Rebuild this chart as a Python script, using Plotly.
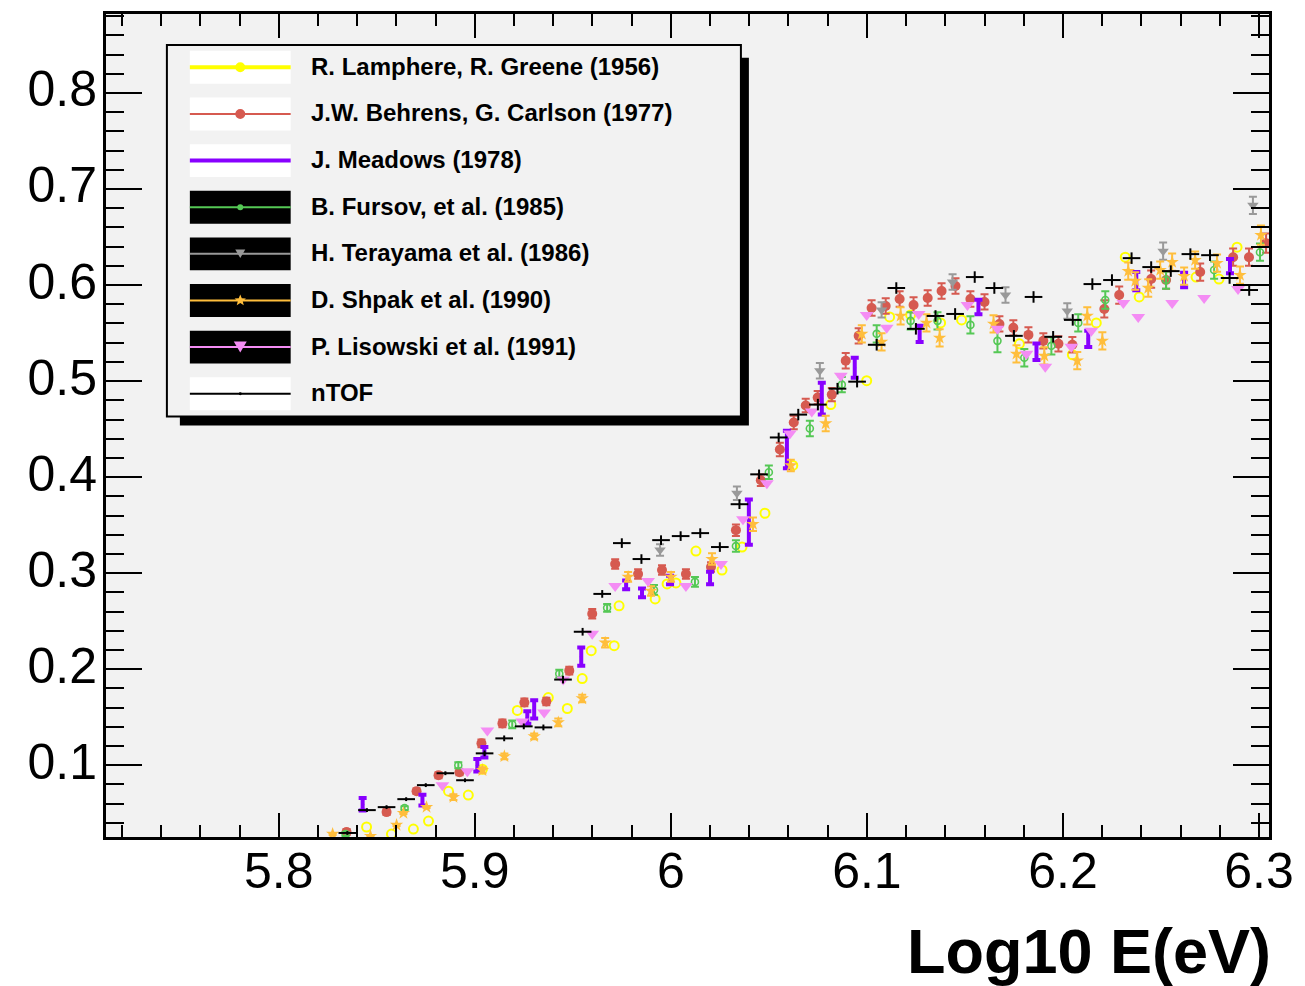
import math
import plotly.graph_objects as go

# ---------------- data (log10 E [eV], cross section) ----------------
lamphere_x = [5.8448, 5.8575, 5.8687, 5.8764, 5.8866, 5.8967, 5.9039, 5.9217, 5.9375, 5.9472,
              5.9548, 5.9594, 5.9711, 5.9736, 5.9920, 5.9981, 6.0026, 6.0128, 6.0261, 6.0363,
              6.0480, 6.0622, 6.0816, 6.0999, 6.1116, 6.1223, 6.1376, 6.1483, 6.1778, 6.2048,
              6.2170, 6.2318, 6.2389, 6.2679, 6.2796, 6.2888]
lamphere_y = [0.0357, 0.0284, 0.0336, 0.0419, 0.0730, 0.0689, 0.0959, 0.1571, 0.1705, 0.1591,
              0.1902, 0.2193, 0.2245, 0.2660, 0.2732, 0.2888, 0.2898, 0.3230, 0.3033, 0.3272,
              0.3624, 0.4122, 0.4755, 0.5004, 0.5668, 0.5689, 0.5606, 0.5637, 0.5388, 0.5274,
              0.5606, 0.6290, 0.5876, 0.6083, 0.6062, 0.6394]

behrens_x = [5.8346, 5.8550, 5.8703, 5.8815, 5.8922, 5.9034, 5.9141, 5.9253, 5.9365, 5.9482,
             5.9599, 5.9716, 5.9833, 5.9955, 6.0077, 6.0205, 6.0332, 6.0459, 6.0556, 6.0627,
             6.0688, 6.0749, 6.0821, 6.0892, 6.0958, 6.1024, 6.1096, 6.1167, 6.1238, 6.1310,
             6.1381, 6.1452, 6.1528, 6.1600, 6.1676, 6.1747, 6.1824, 6.1900, 6.1977, 6.2048,
             6.2211, 6.2287, 6.2450, 6.2526, 6.2700, 6.2868, 6.2949, 6.3036]
behrens_y = [0.0305, 0.0512, 0.0730, 0.0896, 0.0927, 0.1228, 0.1436, 0.1654, 0.1664, 0.1985,
             0.2577, 0.3095, 0.2992, 0.3033, 0.2992, 0.3064, 0.3448, 0.3967, 0.4288, 0.4568,
             0.4745, 0.4828, 0.4859, 0.5212, 0.5471, 0.5761, 0.5782, 0.5855, 0.5793, 0.5865,
             0.5938, 0.5990, 0.5855, 0.5824, 0.5595, 0.5554, 0.5481, 0.5419, 0.5388, 0.5378,
             0.5751, 0.5896, 0.6062, 0.6052, 0.6135, 0.6290, 0.6290, 0.6436]
behrens_err = [0.003, 0.003, 0.003, 0.003, 0.003, 0.004, 0.004, 0.004, 0.004, 0.004,
               0.005, 0.005, 0.005, 0.005, 0.005, 0.005, 0.006, 0.006, 0.007, 0.007,
               0.007, 0.007, 0.007, 0.008, 0.008, 0.008, 0.008, 0.008, 0.008, 0.008,
               0.008, 0.008, 0.008, 0.008, 0.008, 0.008, 0.008, 0.008, 0.008, 0.008,
               0.009, 0.009, 0.009, 0.009, 0.009, 0.009, 0.009, 0.010]

meadows_x = [5.8428, 5.8733, 5.9013, 5.9049, 5.9268, 5.9303, 5.9543, 5.9772, 5.9853, 5.9996,
             6.0200, 6.0398, 6.0592, 6.0770, 6.0938, 6.1269, 6.1569, 6.1865, 6.2129, 6.2374,
             6.2618, 6.2852]
meadows_y = [0.0595, 0.0637, 0.1000, 0.1135, 0.1498, 0.1581, 0.2131, 0.2878, 0.2795, 0.2929,
             0.2950, 0.3531, 0.4288, 0.4817, 0.5139, 0.5492, 0.5772, 0.5305, 0.5440, 0.6042,
             0.6052, 0.6197]
meadows_err = [0.0065, 0.0055, 0.0065, 0.0055, 0.0065, 0.0095, 0.0095, 0.0045, 0.0045, 0.0045,
               0.0065, 0.0235, 0.0195, 0.0165, 0.0105, 0.0085, 0.0075, 0.0085, 0.0085, 0.0095,
               0.0075, 0.0075]

fursov_x = [5.8341, 5.8642, 5.8916, 5.9191, 5.9431, 5.9675, 5.9914, 6.0123, 6.0332, 6.0500,
            6.0709, 6.0872, 6.1050, 6.1223, 6.1360, 6.1528, 6.1666, 6.1803, 6.1941, 6.2078,
            6.2216, 6.2526, 6.2771, 6.3005]
fursov_y = [0.0284, 0.0554, 0.1000, 0.1425, 0.1954, 0.2639, 0.2826, 0.2909, 0.3282, 0.4050,
            0.4506, 0.4963, 0.5492, 0.5627, 0.5627, 0.5585, 0.5419, 0.5243, 0.5367, 0.5606,
            0.5844, 0.6052, 0.6156, 0.6342]
fursov_err = [0.002, 0.002, 0.003, 0.004, 0.004, 0.004, 0.005, 0.005, 0.006, 0.007,
              0.008, 0.008, 0.009, 0.009, 0.009, 0.009, 0.012, 0.009, 0.009, 0.009,
              0.009, 0.009, 0.009, 0.009]

terayama_x = [5.9945, 6.0337, 6.0760, 6.1075, 6.1437, 6.1707, 6.2022, 6.2511, 6.2969]
terayama_y = [0.3241, 0.3832, 0.5108, 0.5741, 0.6031, 0.5896, 0.5730, 0.6353, 0.6830]
terayama_err = [0.006, 0.007, 0.008, 0.008, 0.008, 0.008, 0.008, 0.009, 0.009]

shpak_x = [5.8275, 5.8468, 5.8601, 5.8636, 5.8754, 5.8891, 5.9039, 5.9151, 5.9303, 5.9426,
           5.9548, 5.9665, 5.9782, 5.9899, 6.0001, 6.0210, 6.0419, 6.0612, 6.0790, 6.0974,
           6.1075, 6.1172, 6.1304, 6.1371, 6.1646, 6.1763, 6.1905, 6.2073, 6.2124, 6.2201,
           6.2333, 6.2369, 6.2435, 6.2496, 6.2557, 6.2618, 6.2674, 6.2786, 6.2903, 6.3010]
shpak_y = [0.0284, 0.0263, 0.0378, 0.0502, 0.0564, 0.0668, 0.0948, 0.1093, 0.1301, 0.1446,
           0.1695, 0.2276, 0.2961, 0.2815, 0.2961, 0.3147, 0.3510, 0.4122, 0.4558, 0.5492,
           0.5409, 0.5678, 0.5606, 0.5450, 0.5595, 0.5284, 0.5263, 0.5212, 0.5678, 0.5419,
           0.6145, 0.6042, 0.5969, 0.6156, 0.6239, 0.6093, 0.6259, 0.6228, 0.6104, 0.6519]
shpak_err = [0.001, 0.001, 0.001, 0.001, 0.001, 0.003, 0.003, 0.003, 0.003, 0.004,
             0.004, 0.005, 0.005, 0.005, 0.005, 0.006, 0.007, 0.006, 0.008, 0.009,
             0.009, 0.009, 0.009, 0.009, 0.009, 0.009, 0.009, 0.009, 0.009, 0.009,
             0.009, 0.009, 0.009, 0.009, 0.009, 0.009, 0.009, 0.009, 0.009, 0.010]

lisowski_x = [5.8835, 5.8962, 5.9064, 5.9242, 5.9354, 5.9451, 5.9599, 5.9716, 5.9884, 6.0077,
              6.0256, 6.0368, 6.0490, 6.0607, 6.0719, 6.0867, 6.0999, 6.1101, 6.1264, 6.1513,
              6.1666, 6.1814, 6.1910, 6.2043, 6.2145, 6.2308, 6.2384, 6.2557, 6.2720, 6.2893]
lisowski_y = [0.0793, 0.0938, 0.1363, 0.1456, 0.1550, 0.1892, 0.2369, 0.2867, 0.2919, 0.2867,
              0.3095, 0.3562, 0.3936, 0.4454, 0.4683, 0.5056, 0.5689, 0.5554, 0.5699, 0.5793,
              0.5544, 0.5284, 0.5149, 0.5357, 0.5523, 0.5813, 0.5668, 0.5813, 0.5865, 0.5959]

ntof_x = [5.835, 5.845, 5.855, 5.865, 5.875, 5.885, 5.895, 5.905, 5.915, 5.925,
          5.935, 5.945, 5.955, 5.965, 5.975, 5.985, 5.995, 6.005, 6.015, 6.025,
          6.035, 6.045, 6.055, 6.065, 6.075, 6.085, 6.095, 6.105, 6.115, 6.125,
          6.135, 6.145, 6.155, 6.165, 6.175, 6.185, 6.195, 6.205, 6.215, 6.225,
          6.235, 6.245, 6.255, 6.265, 6.275, 6.285, 6.295]
ntof_y = [0.0295, 0.0533, 0.0564, 0.0647, 0.0793, 0.0917, 0.0844, 0.1124, 0.1280, 0.1405,
          0.1394, 0.1892, 0.2390, 0.2784, 0.3313, 0.3147, 0.3344, 0.3386, 0.3417, 0.3272,
          0.3718, 0.4029, 0.4413, 0.4651, 0.4755, 0.4921, 0.4994, 0.5378, 0.5969, 0.5544,
          0.5678, 0.5699, 0.6083, 0.5969, 0.5471, 0.5876, 0.5461, 0.5637, 0.6010, 0.6052,
          0.6280, 0.6187, 0.6145, 0.6322, 0.6311, 0.6073, 0.5948]
ntof_xerr = [0.0045] * 47
ntof_yerr = [0.002, 0.002, 0.002, 0.002, 0.002, 0.002, 0.002, 0.003, 0.003, 0.003,
             0.003, 0.004, 0.004, 0.004, 0.005, 0.005, 0.005, 0.005, 0.005, 0.005,
             0.005, 0.005, 0.005, 0.006, 0.006, 0.006, 0.006, 0.006, 0.006, 0.006,
             0.006, 0.006, 0.006, 0.006, 0.006, 0.006, 0.006, 0.006, 0.006, 0.006,
             0.006, 0.006, 0.006, 0.006, 0.006, 0.006, 0.006]

x_tickvals = [5.8, 5.9, 6.0, 6.1, 6.2, 6.3]
x_ticktext = ["5.8", "5.9", "6", "6.1", "6.2", "6.3"]
y_tickvals = [0.1, 0.2, 0.3, 0.4, 0.5, 0.6, 0.7, 0.8]
y_ticktext = ["0.1", "0.2", "0.3", "0.4", "0.5", "0.6", "0.7", "0.8"]

legend_labels = ["R. Lamphere, R. Greene (1956)", "J.W. Behrens, G. Carlson (1977)",
                 "J. Meadows (1978)", "B. Fursov, et al. (1985)", "H. Terayama et al. (1986)",
                 "D. Shpak et al. (1990)", "P. Lisowski et al. (1991)", "nTOF"]

# ---------------- styles ----------------
C_LAM = "#ffff00"
C_BEH = "#d65a50"
C_MEA = "#8800ff"
C_FUR = "#55c855"
C_TER = "#999999"
C_SHP = "#ffbe3c"
C_LIS = "#f48cf4"
C_NTOF = "#000000"

FONT = "Liberation Sans, Arial, Helvetica, sans-serif"

W, H = 1305, 986
PL, PR, PT, PB = 106, 1271, 11, 837   # plot frame in pixels


def fx(p):
    return (p - PL) / (PR - PL)


def fy(p):
    return (PB - p) / (PB - PT)


fig = go.Figure()

fig.add_trace(go.Scatter(
    x=lamphere_x, y=lamphere_y, mode="markers", name=legend_labels[0],
    marker=dict(symbol="circle-open", size=9, color=C_LAM, line=dict(width=2, color=C_LAM))))

fig.add_trace(go.Scatter(
    x=behrens_x, y=behrens_y, mode="markers", name=legend_labels[1],
    marker=dict(symbol="circle", size=10, color=C_BEH),
    error_y=dict(type="data", array=behrens_err, color=C_BEH, thickness=2, width=4)))

fig.add_trace(go.Scatter(
    x=meadows_x, y=meadows_y, mode="markers", name=legend_labels[2],
    marker=dict(symbol="circle", size=3, color=C_MEA),
    error_y=dict(type="data", array=meadows_err, color=C_MEA, thickness=4, width=4)))

fig.add_trace(go.Scatter(
    x=fursov_x, y=fursov_y, mode="markers", name=legend_labels[3],
    marker=dict(symbol="circle-open", size=7, color=C_FUR, line=dict(width=1.6, color=C_FUR)),
    error_y=dict(type="data", array=fursov_err, color=C_FUR, thickness=2, width=4)))

fig.add_trace(go.Scatter(
    x=terayama_x, y=terayama_y, mode="markers", name=legend_labels[4],
    marker=dict(symbol="triangle-down", size=10, color=C_TER),
    error_y=dict(type="data", array=terayama_err, color=C_TER, thickness=2, width=4)))

fig.add_trace(go.Scatter(
    x=shpak_x, y=shpak_y, mode="markers", name=legend_labels[5],
    marker=dict(symbol="star", size=10, color=C_SHP),
    error_y=dict(type="data", array=shpak_err, color=C_SHP, thickness=2, width=4)))

fig.add_trace(go.Scatter(
    x=lisowski_x, y=lisowski_y, mode="markers", name=legend_labels[6],
    marker=dict(symbol="triangle-down", size=12, color=C_LIS)))

fig.add_trace(go.Scatter(
    x=ntof_x, y=ntof_y, mode="markers", name=legend_labels[7],
    marker=dict(symbol="circle", size=2, color=C_NTOF),
    error_x=dict(type="data", array=ntof_xerr, color=C_NTOF, thickness=2, width=0),
    error_y=dict(type="data", array=ntof_yerr, color=C_NTOF, thickness=2, width=0)))

# ---------------- axes ----------------
axis_common = dict(
    showgrid=False, zeroline=False, showline=True, linecolor="black", linewidth=3,
    mirror="ticks", ticks="inside", tickcolor="black", tickwidth=2,
    tickfont=dict(family=FONT, size=50, color="black"),
)
fig.update_xaxes(
    range=[5.7119, 6.3051], tickmode="array", tickvals=x_tickvals, ticktext=x_ticktext,
    ticklen=24, ticklabelstandoff=-12,
    minor=dict(ticks="inside", ticklen=12, tickwidth=2, tickcolor="black",
               tickmode="linear", tick0=5.8, dtick=0.02),
    **axis_common)
fig.update_yaxes(
    range=[0.0253, 0.8822], tickmode="array", tickvals=y_tickvals, ticktext=y_ticktext,
    ticklen=36, ticklabelstandoff=-4, ticklabelshift=-4,
    minor=dict(ticks="inside", ticklen=18, tickwidth=2, tickcolor="black",
               tickmode="linear", tick0=0.1, dtick=0.02),
    **axis_common)

# ---------------- hand-drawn legend (ROOT style) ----------------
shapes = []
annotations = []
# shadow
shapes.append(dict(type="rect", xref="paper", yref="paper",
                   x0=fx(180), x1=fx(750), y0=fy(424), y1=fy(55),
                   fillcolor="black", line=dict(width=0)))
# box
shapes.append(dict(type="rect", xref="paper", yref="paper",
                   x0=fx(167), x1=fx(742), y0=fy(415), y1=fy(42),
                   fillcolor="#f2f2f2", line=dict(color="black", width=2)))

entry_colors = [C_LAM, C_BEH, C_MEA, C_FUR, C_TER, C_SHP, C_LIS, C_NTOF]
entry_bg = ["white", "white", "white", "black", "black", "black", "black", "white"]
entry_lw = [4, 2, 4, 2, 2, 2, 2, 2]
entry_marker = ["circle5", "circle5", "none", "circle3", "tri10", "star", "tri13", "dot"]
y0c = 64.5
dy = 46.8
sx0, sx1 = 190, 291
mx = 240.5


def star_path(cx, cy, ro, ri):
    pts = []
    for k in range(10):
        ang = -math.pi / 2 + k * math.pi / 5
        r = ro if k % 2 == 0 else ri
        pts.append((fx(cx + r * math.cos(ang)), fy(cy + r * math.sin(ang))))
    return "M " + " L ".join(f"{a:.5f},{b:.5f}" for a, b in pts) + " Z"


for i, lab in enumerate(legend_labels):
    cy = y0c + i * dy
    shapes.append(dict(type="rect", xref="paper", yref="paper",
                       x0=fx(sx0), x1=fx(sx1), y0=fy(cy + 16.5), y1=fy(cy - 16.5),
                       fillcolor=entry_bg[i], line=dict(width=0)))
    shapes.append(dict(type="line", xref="paper", yref="paper",
                       x0=fx(sx0), x1=fx(sx1), y0=fy(cy), y1=fy(cy),
                       line=dict(color=entry_colors[i], width=entry_lw[i])))
    m = entry_marker[i]
    col = entry_colors[i]
    if m.startswith("circle") or m == "dot":
        r = 5 if m == "circle5" else (3 if m == "circle3" else 1.5)
        shapes.append(dict(type="circle", xref="paper", yref="paper",
                           x0=fx(mx - r), x1=fx(mx + r), y0=fy(cy + r), y1=fy(cy - r),
                           fillcolor=col, line=dict(width=0)))
    elif m.startswith("tri"):
        w = 10 if m == "tri10" else 13
        h = w * 0.85
        path = (f"M {fx(mx - w / 2):.5f},{fy(cy - h / 2):.5f} "
                f"L {fx(mx + w / 2):.5f},{fy(cy - h / 2):.5f} "
                f"L {fx(mx):.5f},{fy(cy + h / 2):.5f} Z")
        shapes.append(dict(type="path", xref="paper", yref="paper", path=path,
                           fillcolor=col, line=dict(width=0)))
    elif m == "star":
        shapes.append(dict(type="path", xref="paper", yref="paper",
                           path=star_path(mx, cy, 6, 2.6), fillcolor=col, line=dict(width=0)))
    annotations.append(dict(
        text=lab, xref="paper", yref="paper", x=fx(309), y=fy(cy - 1),
        xanchor="left", yanchor="middle", showarrow=False,
        font=dict(family=FONT, size=24, color="black", weight="bold")))

# axis title (ROOT style: right-aligned below the axis)
annotations.append(dict(
    text="<b>Log10 E(eV)</b>", xref="paper", yref="paper", x=fx(1275), y=fy(951),
    xanchor="right", yanchor="middle", showarrow=False,
    font=dict(family=FONT, size=63, color="black")))

fig.update_layout(
    width=W, height=H,
    margin=dict(l=PL, r=W - PR, t=PT, b=H - PB, pad=0),
    paper_bgcolor="white", plot_bgcolor="#f2f2f2",
    showlegend=False,
    shapes=shapes, annotations=annotations,
)

fig.write_html("out.html")
